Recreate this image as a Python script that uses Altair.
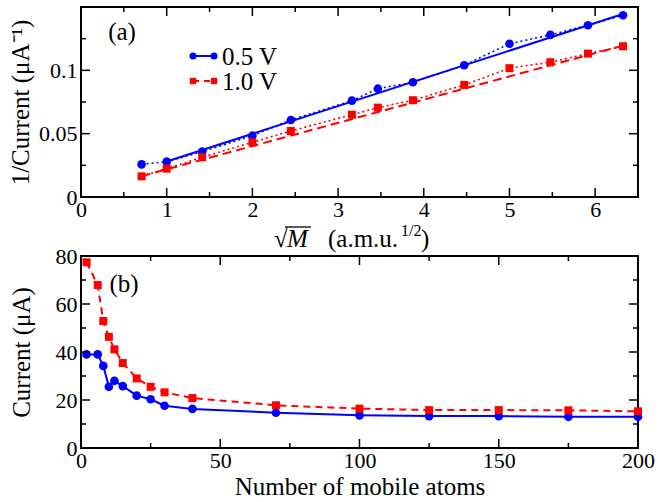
import altair as alt
import pandas as pd

# ---------------- data ----------------
sqrtM = [0.707, 1.0, 1.414, 2.0, 2.449, 3.162, 3.464, 3.873, 4.472, 5.0, 5.477, 5.916, 6.325]
inv_05 = [0.0258, 0.0279, 0.0358, 0.0484, 0.0608, 0.0761, 0.0855, 0.0906, 0.104, 0.121, 0.128, 0.1356, 0.1435]
inv_10 = [0.0163, 0.0224, 0.0314, 0.0432, 0.0521, 0.065, 0.0705, 0.0764, 0.0885, 0.1017, 0.1064, 0.1132, 0.119]
fit_x_05 = [1.0, 6.325]
fit_y_05 = [0.028, 0.1445]
fit_x_10 = [0.707, 6.325]
fit_y_10 = [0.0165, 0.1195]

atoms = [2, 6, 8, 10, 12, 15, 20, 25, 30, 40, 70, 100, 125, 150, 175, 200]
cur_05 = [39.0, 39.0, 34.2, 25.5, 28.0, 25.8, 21.8, 20.3, 17.6, 16.3, 14.7, 13.6, 13.3, 13.3, 13.0, 13.0]
cur_10 = [77.4, 67.9, 52.9, 46.3, 41.1, 35.4, 29.0, 25.5, 23.2, 20.8, 17.8, 16.4, 15.8, 15.8, 15.7, 15.3]

top_x_major = [0, 1, 2, 3, 4, 5, 6]
top_x_minor = [0.5, 1.5, 2.5, 3.5, 4.5, 5.5]
top_y_major = [0.05, 0.1]
top_y_minor = [0.025, 0.075, 0.125]
top_y_labels = [0, 0.05, 0.1]

bot_x_major = [50, 100, 150]
bot_x_minor = [25, 75, 125, 175]
bot_y_major = [20, 40, 60]
bot_y_minor = [10, 30, 50, 70]
bot_x_labels = [0, 50, 100, 150, 200]
bot_y_labels = [0, 20, 40, 60, 80]

series_names = ["0.5 V", "1.0 V"]

# ---------------- style ----------------
FONT = "Liberation Serif"
BLUE = "#0000ff"
RED = "#ff0000"
W = 557
H1 = 190
H2 = 192
LBL = 22
TTL = 25
one = pd.DataFrame({"k": [0]})


def x_enc(dom, labels, title, tpad=4):
    axis = alt.Axis(values=labels, ticks=False, domain=False, grid=False, labelPadding=2,
                    labelFlush=False, labelOverlap=False, format="~r",
                    labelFont=FONT, titleFont=FONT, labelColor="black", titleColor="black",
                    titleFontWeight="normal",
                    labelFontSize=LBL, titleFontSize=TTL, titlePadding=tpad, title=title)
    return alt.X("x:Q", scale=alt.Scale(domain=dom, nice=False, zero=False), axis=axis)


def y_enc(dom, labels, title, tpad):
    return alt.Y("y:Q", scale=alt.Scale(domain=dom, nice=False, zero=False),
                 axis=alt.Axis(values=labels, ticks=False, domain=False, grid=False,
                               labelPadding=4, labelOverlap=False, format="~r",
                               labelFont=FONT, titleFont=FONT, labelColor="black",
                               titleColor="black", titleFontWeight="normal",
                               labelFontSize=LBL, titleFontSize=TTL, title=title,
                               titlePadding=tpad))


def tick_layers(X, Y, xmaj, xmin, ymaj, ymin, Hh):
    layers = []
    for vals, L in ((xmaj, 9), (xmin, 5)):
        d = pd.DataFrame({"x": vals})
        b = alt.Chart(d).mark_rule(color="black", strokeWidth=1.5)
        layers.append(b.encode(x=X, y=alt.value(Hh), y2=alt.value(Hh - L)))
        layers.append(b.encode(x=X, y=alt.value(0), y2=alt.value(L)))
    for vals, L in ((ymaj, 9), (ymin, 5)):
        d = pd.DataFrame({"y": vals})
        b = alt.Chart(d).mark_rule(color="black", strokeWidth=1.5)
        layers.append(b.encode(y=Y, x=alt.value(0), x2=alt.value(L)))
        layers.append(b.encode(y=Y, x=alt.value(W), x2=alt.value(W - L)))
    return layers


# ---------------- top panel ----------------
X1 = x_enc([0, 6.5], top_x_major, "")
Y1 = y_enc([0, 0.15], top_y_labels, "1/Current (μA⁻¹)", 5)

d05 = pd.DataFrame({"x": sqrtM, "y": inv_05})
d10 = pd.DataFrame({"x": sqrtM, "y": inv_10})
f05 = pd.DataFrame({"x": fit_x_05, "y": fit_y_05})
f10 = pd.DataFrame({"x": fit_x_10, "y": fit_y_10})

top_layers = [
    alt.Chart(d05).mark_line(color=BLUE, strokeWidth=1.6, strokeDash=[2, 3]).encode(x=X1, y=Y1),
    alt.Chart(d10).mark_line(color=RED, strokeWidth=1.6, strokeDash=[2, 3]).encode(x=X1, y=Y1),
    alt.Chart(f05).mark_line(color=BLUE, strokeWidth=2).encode(x=X1, y=Y1),
    alt.Chart(f10).mark_line(color=RED, strokeWidth=2, strokeDash=[9, 5]).encode(x=X1, y=Y1),
    alt.Chart(d05).mark_point(shape="circle", filled=True, opacity=1, color=BLUE, size=75).encode(x=X1, y=Y1),
    alt.Chart(d10).mark_point(shape="square", filled=True, opacity=1, color=RED, size=64).encode(x=X1, y=Y1),
]
top_layers += tick_layers(X1, Y1, top_x_major, top_x_minor, top_y_major, top_y_minor, H1)

# legend
leg = alt.Chart(one)
top_layers += [
    leg.mark_rule(color=BLUE, strokeWidth=2).encode(x=alt.value(112), x2=alt.value(133), y=alt.value(49)),
    leg.mark_point(shape="circle", filled=True, opacity=1, color=BLUE, size=50).encode(x=alt.value(112), y=alt.value(49)),
    leg.mark_point(shape="circle", filled=True, opacity=1, color=BLUE, size=50).encode(x=alt.value(133), y=alt.value(49)),
    leg.mark_text(text=series_names[0], font=FONT, fontSize=TTL, align="left", baseline="middle").encode(x=alt.value(141), y=alt.value(50)),
    leg.mark_rule(color=RED, strokeWidth=2, strokeDash=[6, 5]).encode(x=alt.value(112), x2=alt.value(133), y=alt.value(74)),
    leg.mark_point(shape="square", filled=True, opacity=1, color=RED, size=40).encode(x=alt.value(112), y=alt.value(74)),
    leg.mark_point(shape="square", filled=True, opacity=1, color=RED, size=40).encode(x=alt.value(133), y=alt.value(74)),
    leg.mark_text(text=series_names[1], font=FONT, fontSize=TTL, align="left", baseline="middle").encode(x=alt.value(141), y=alt.value(75)),
    leg.mark_text(text="(a)", font=FONT, fontSize=TTL, align="center", baseline="middle").encode(x=alt.value(41), y=alt.value(25)),
]
# custom x-axis title: sqrt(M) (a.m.u.^1/2)
top_layers += [
    leg.mark_text(text="√", font=FONT, fontSize=TTL, align="left", baseline="alphabetic").encode(x=alt.value(193), y=alt.value(240)),
    leg.mark_text(text="M", font=FONT, fontSize=TTL, fontStyle="italic", align="left", baseline="alphabetic").encode(x=alt.value(206), y=alt.value(240)),
    leg.mark_rule(color="black", strokeWidth=1.3).encode(x=alt.value(204), x2=alt.value(230), y=alt.value(220)),
    leg.mark_text(text="(a.m.u.", font=FONT, fontSize=TTL, align="left", baseline="alphabetic").encode(x=alt.value(247), y=alt.value(240)),
    leg.mark_text(text="1/2", font=FONT, fontSize=16, align="left", baseline="alphabetic").encode(x=alt.value(320), y=alt.value(229)),
    leg.mark_text(text=")", font=FONT, fontSize=TTL, align="left", baseline="alphabetic").encode(x=alt.value(340), y=alt.value(240)),
]

top = alt.layer(*top_layers).properties(width=W, height=H1)

# ---------------- bottom panel ----------------
X2 = x_enc([0, 200], bot_x_labels, "Number of mobile atoms", 3)
Y2 = y_enc([0, 80], bot_y_labels, "Current (μA)", 21)

b05 = pd.DataFrame({"x": atoms, "y": cur_05})
b10 = pd.DataFrame({"x": atoms, "y": cur_10})

bot_layers = [
    alt.Chart(b05).mark_line(color=BLUE, strokeWidth=2).encode(x=X2, y=Y2),
    alt.Chart(b10).mark_line(color=RED, strokeWidth=2, strokeDash=[7, 5]).encode(x=X2, y=Y2),
    alt.Chart(b05).mark_point(shape="circle", filled=True, opacity=1, color=BLUE, size=75).encode(x=X2, y=Y2),
    alt.Chart(b10).mark_point(shape="square", filled=True, opacity=1, color=RED, size=64).encode(x=X2, y=Y2),
]
bot_layers += tick_layers(X2, Y2, bot_x_major, bot_x_minor, bot_y_major, bot_y_minor, H2)
bot_layers += [
    alt.Chart(one).mark_text(text="(b)", font=FONT, fontSize=TTL, align="center", baseline="middle").encode(x=alt.value(43), y=alt.value(28)),
]
bottom = alt.layer(*bot_layers).properties(width=W, height=H2)

chart = (
    alt.vconcat(top, bottom, spacing=-9)
    .properties(padding={"left": 7, "top": 5, "right": 2, "bottom": 2}, background="white")
    .configure_view(stroke="black", strokeWidth=2)
)

chart.save("out.html", embed_options={"renderer": "svg", "actions": False})
